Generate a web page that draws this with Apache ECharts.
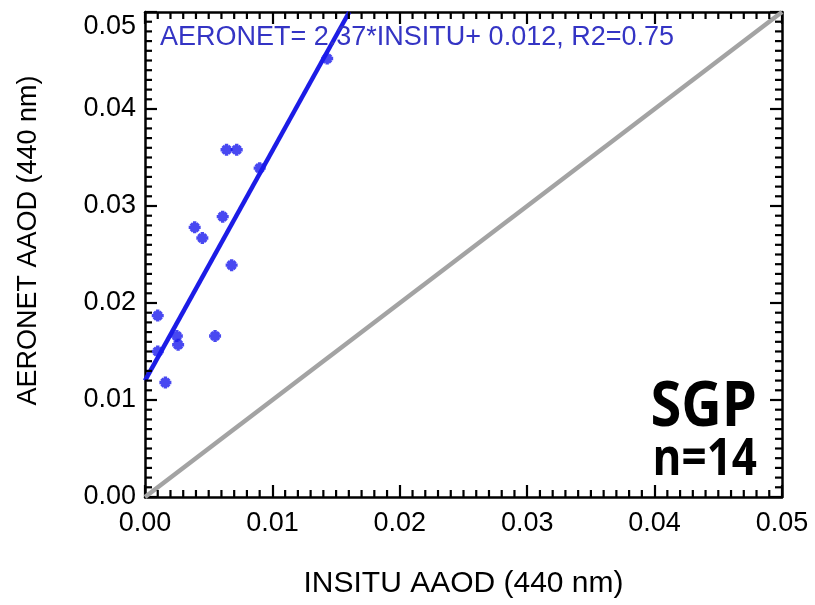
<!DOCTYPE html>
<html>
<head>
<meta charset="utf-8">
<script src="https://cdn.jsdelivr.net/npm/echarts@6/dist/echarts.min.js"></script>
<style>
  html, body { margin: 0; padding: 0; background: #fff; }
  #chart { width: 815px; height: 605px; }
</style>
</head>
<body>
<div id="chart"></div>
<script>
// Absorption AOD at 440 nm: in-situ vs AERONET, SGP site
const insitu  = [0.0010, 0.0010, 0.0016, 0.0025, 0.0026, 0.0055, 0.0039, 0.0045, 0.0061, 0.0068, 0.0064, 0.0072, 0.0090, 0.0143];
const aeronet = [0.0187, 0.0150, 0.0118, 0.0166, 0.0157, 0.0166, 0.0278, 0.0267, 0.0289, 0.0239, 0.0358, 0.0358, 0.0339, 0.0452];

// Linear fit reported on the plot
const fitSlope = 2.37;
const fitIntercept = 0.012;
const fitR2 = 0.75;

const axisMin = 0;
const axisMax = 0.05;
const axisStep = 0.01;
const minorPerMajor = 10;
const tickLabels = ['0.00', '0.01', '0.02', '0.03', '0.04', '0.05'];

const siteName = 'SGP';
const sampleCount = insitu.length;

const points = insitu.map((x, i) => [x, aeronet[i]]);
const fitEndX = (axisMax - fitIntercept) / fitSlope;
const fitLine = [[axisMin, fitIntercept + fitSlope * axisMin], [fitEndX, fitIntercept + fitSlope * fitEndX]];
const oneToOne = [[axisMin, axisMin], [axisMax, axisMax]];

// minor tick positions (every tenth of a major step, majors excluded)
const minorValues = [];
for (let k = 0; k <= Math.round((axisMax - axisMin) / axisStep) * minorPerMajor; k++) {
  if (k % minorPerMajor !== 0) minorValues.push(+(axisMin + k * axisStep / minorPerMajor).toFixed(6));
}

const FONT = '"Liberation Sans", Arial, sans-serif';
const tickFont = { fontFamily: FONT, fontSize: 27, color: '#000' };
const MINOR_LEN = 7;

function tickIndex(v) { return Math.round((v - axisMin) / axisStep); }
function xTickFormatter(v) { const t = tickLabels[tickIndex(v)]; return t !== undefined ? t : ''; }
// the top label of the y axis sits a little below its tick
function yTickFormatter(v) {
  const i = tickIndex(v);
  const t = tickLabels[i];
  if (t === undefined) return '';
  return i === tickLabels.length - 1 ? '{low|' + t + '}' : t;
}

function frameAxis(extra) {
  return Object.assign({
    type: 'value',
    min: axisMin,
    max: axisMax,
    interval: axisStep,
    axisLine: { show: true, onZero: false, lineStyle: { color: '#000', width: 2.5 } },
    axisTick: { show: true, inside: true, length: 12, lineStyle: { color: '#000', width: 2.2 } },
    axisLabel: { show: false },
    splitLine: { show: false }
  }, extra);
}

// Short inward ticks on all four sides of the frame for one minor value
function renderMinorTicks(params, api) {
  const v = api.value(0);
  const bottom = api.coord([v, axisMin]);
  const top = api.coord([v, axisMax]);
  const left = api.coord([axisMin, v]);
  const right = api.coord([axisMax, v]);
  const style = { stroke: '#000', lineWidth: 2.2 };
  return {
    type: 'group',
    children: [
      { type: 'line', shape: { x1: bottom[0], y1: bottom[1], x2: bottom[0], y2: bottom[1] - MINOR_LEN }, style: style },
      { type: 'line', shape: { x1: top[0], y1: top[1], x2: top[0], y2: top[1] + MINOR_LEN }, style: style },
      { type: 'line', shape: { x1: left[0], y1: left[1], x2: left[0] + MINOR_LEN, y2: left[1] }, style: style },
      { type: 'line', shape: { x1: right[0], y1: right[1], x2: right[0] - MINOR_LEN, y2: right[1] }, style: style }
    ]
  };
}

// Thick asterisk marker: four bars sharing one centre
const starPath = 'path://' +
  'M0,4.3 L12,4.3 L12,7.7 L0,7.7 Z ' +
  'M4.3,0 L7.7,0 L7.7,12 L4.3,12 Z ' +
  'M3.31,0.91 L11.09,8.69 L8.69,11.09 L0.91,3.31 Z ' +
  'M8.69,0.91 L11.09,3.31 L3.31,11.09 L0.91,8.69 Z';

const chart = echarts.init(document.getElementById('chart'), null, { renderer: 'canvas' });
chart.setOption({
  backgroundColor: '#fff',
  animation: false,
  grid: { left: 145, right: 33, top: 12, bottom: 108 },
  xAxis: [
    frameAxis({
      position: 'bottom',
      name: 'INSITU AAOD (440 nm)',
      nameLocation: 'middle',
      nameGap: 72,
      nameTextStyle: { fontFamily: FONT, fontSize: 30, color: '#000' },
      axisLabel: Object.assign({ show: true, margin: 13, formatter: xTickFormatter }, tickFont)
    }),
    frameAxis({ position: 'top' })
  ],
  yAxis: [
    frameAxis({
      position: 'left',
      name: 'AERONET AAOD (440 nm)',
      nameLocation: 'middle',
      nameGap: 103,
      nameRotate: 90,
      nameTextStyle: { fontFamily: FONT, fontSize: 27, color: '#000', padding: [0, 0, 0, 28] },
      axisLabel: Object.assign({
        show: true, margin: 9, formatter: yTickFormatter,
        rich: { low: { fontFamily: FONT, fontSize: 27, color: '#000', padding: [30, 0, 0, 0] } }
      }, tickFont)
    }),
    frameAxis({ position: 'right' })
  ],
  series: [
    {
      type: 'custom',
      coordinateSystem: 'cartesian2d',
      xAxisIndex: 0, yAxisIndex: 0,
      data: minorValues.map(v => [v, axisMin]),
      encode: { x: 0, y: 1 },
      renderItem: renderMinorTicks,
      clip: false,
      silent: true,
      z: 5
    },
    {
      type: 'line',
      xAxisIndex: 0, yAxisIndex: 0,
      data: oneToOne,
      symbol: 'none',
      lineStyle: { color: '#a3a3a3', width: 4.5 },
      z: 2
    },
    {
      type: 'line',
      xAxisIndex: 0, yAxisIndex: 0,
      data: fitLine,
      symbol: 'none',
      lineStyle: { color: '#1c1ce6', width: 4.5 },
      z: 3
    },
    {
      type: 'scatter',
      xAxisIndex: 0, yAxisIndex: 0,
      data: points,
      symbol: starPath,
      symbolSize: [12, 12],
      itemStyle: { color: '#1a1aee' },
      z: 4
    }
  ],
  graphic: [
    {
      type: 'text',
      left: 160,
      top: 24,
      style: {
        text: 'AERONET= ' + fitSlope.toFixed(2) + '*INSITU+ ' + fitIntercept.toFixed(3) + ', R2=' + fitR2.toFixed(2),
        fill: '#3434c4',
        font: '27px ' + FONT
      },
      z: 10
    },
    {
      type: 'text',
      x: 757,
      y: 408,
      scaleY: 1.12,
      style: {
        text: siteName,
        fill: '#000',
        font: 'bold 56px "Open Sans", "Noto Sans", sans-serif',
        align: 'right',
        verticalAlign: 'middle'
      },
      z: 10
    },
    {
      type: 'text',
      x: 757,
      y: 460,
      scaleY: 1.2,
      style: {
        text: 'n=' + sampleCount,
        fill: '#000',
        font: 'bold 44px "Open Sans", "Noto Sans", sans-serif',
        align: 'right',
        verticalAlign: 'middle'
      },
      z: 10
    }
  ]
});
</script>
</body>
</html>
